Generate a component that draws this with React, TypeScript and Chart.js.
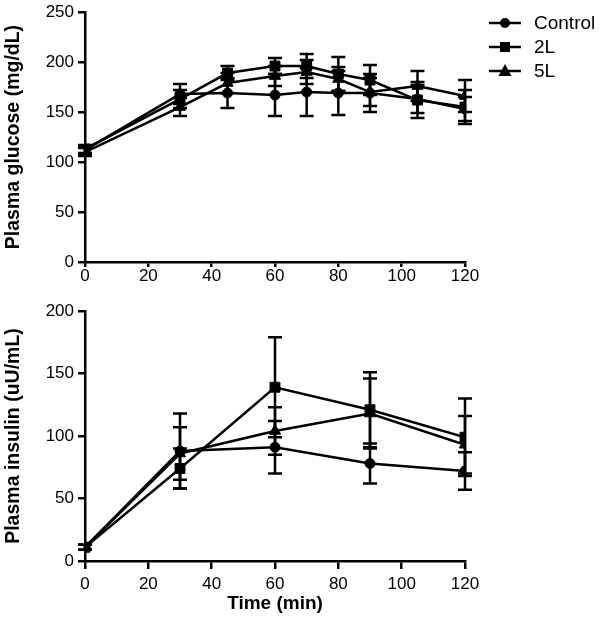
import React, { useEffect, useRef } from "react";
import { Chart, registerables } from "chart.js";

Chart.register(...registerables);

// ---- Data ----
const seriesNames = ["Control", "2L", "5L"];
const markerStyles = ["circle", "rect", "triangle"];

const glucoseTimes = [0, 30, 45, 60, 70, 80, 90, 105, 120];
const glucoseControl = [112, 168, 169, 167, 170, 169, 169, 163, 153];
const glucoseControlErr = [4, 10, 15, 21, 24, 22, 19, 14, 12];
const glucose2L = [113, 163, 189, 196, 196, 188, 182, 162, 155];
const glucose2LErr = [4, 9, 7, 8, 12, 17, 15, 18, 17];
const glucose5L = [110, 155, 179, 186, 190, 183, 170, 176, 166];
const glucose5LErr = [4, 9, 10, 10, 12, 12, 14, 15, 16];

const insulinTimes = [0, 30, 60, 90, 120];
const insulinControl = [11, 88, 91, 78, 72];
const insulinControlErr = [2, 30, 21, 16, 15];
const insulin2L = [11, 74, 139, 121, 99];
const insulin2LErr = [2, 16, 40, 30, 31];
const insulin5L = [11, 86, 104, 118, 93];
const insulin5LErr = [2, 21, 19, 28, 23];

const xTicks = [0, 20, 40, 60, 80, 100, 120];

const FONT = "'Liberation Sans', Arial, Helvetica, sans-serif";

const errorBarPlugin = {
  id: "errorBars",
  beforeDatasetsDraw(chart: any) {
    const ctx = chart.ctx;
    const yScale = chart.scales.y;
    chart.data.datasets.forEach((ds: any, di: number) => {
      const meta = chart.getDatasetMeta(di);
      if (!ds.errors) return;
      ctx.save();
      ctx.strokeStyle = "#000";
      ctx.lineWidth = 2.5;
      meta.data.forEach((pt: any, i: number) => {
        const v = ds.data[i].y;
        const e = ds.errors[i];
        const yTop = yScale.getPixelForValue(v + e);
        const yBot = yScale.getPixelForValue(v - e);
        const x = pt.x;
        ctx.beginPath();
        ctx.moveTo(x, yTop);
        ctx.lineTo(x, yBot);
        ctx.moveTo(x - 7, yTop);
        ctx.lineTo(x + 7, yTop);
        ctx.moveTo(x - 7, yBot);
        ctx.lineTo(x + 7, yBot);
        ctx.stroke();
      });
      ctx.restore();
    });
  },
};

const legendPlugin = {
  id: "customLegend",
  afterDraw(chart: any) {
    if (!chart.options.plugins.customLegend?.show) return;
    const ctx = chart.ctx;
    ctx.save();
    const ys = [23, 47, 71];
    seriesNames.forEach((name, i) => {
      const y = ys[i];
      ctx.strokeStyle = "#000";
      ctx.fillStyle = "#000";
      ctx.lineWidth = 2.5;
      ctx.beginPath();
      ctx.moveTo(489, y);
      ctx.lineTo(521, y);
      ctx.stroke();
      const cx = 505;
      ctx.beginPath();
      if (markerStyles[i] === "circle") {
        ctx.arc(cx, y, 5, 0, Math.PI * 2);
      } else if (markerStyles[i] === "rect") {
        ctx.rect(cx - 5, y - 5, 10, 10);
      } else {
        ctx.moveTo(cx, y - 7);
        ctx.lineTo(cx + 6.5, y + 5);
        ctx.lineTo(cx - 6.5, y + 5);
        ctx.closePath();
      }
      ctx.fill();
      ctx.font = `19px ${FONT}`;
      ctx.textBaseline = "middle";
      ctx.textAlign = "left";
      ctx.fillText(name, 534, y + 1);
    });
    ctx.restore();
  },
};

function makeDatasets(times: number[], vals: number[][], errs: number[][]) {
  return vals.map((v, si) => ({
    label: seriesNames[si],
    data: times.map((t, i) => ({ x: t, y: v[i] })),
    errors: errs[si],
    borderColor: "#000",
    backgroundColor: "#000",
    borderWidth: 2.5,
    pointStyle: markerStyles[si],
    pointRadius: si === 0 ? 5 : si === 1 ? 7 : 6.5,
    pointBorderWidth: 1,
    pointBorderColor: "#000",
    pointBackgroundColor: "#000",
    tension: 0,
  }));
}

function buildOptions(
  yMax: number,
  yTitle: string,
  showX: boolean,
  leftW: number,
  xH: number,
  padding: any,
  showLegend: boolean,
  xTickLen: number,
  xTickPad: number
) {
  return {
    responsive: false,
    animation: false,
    layout: { padding },
    plugins: {
      legend: { display: false },
      tooltip: { enabled: false },
      customLegend: { show: showLegend },
    },
    scales: {
      x: {
        type: "linear",
        min: 0,
        max: 120,
        afterBuildTicks: (s: any) => {
          s.ticks = xTicks.map((v) => ({ value: v }));
        },
        afterFit: (s: any) => {
          s.height = xH;
        },
        ticks: {
          color: "#000",
          font: { family: FONT, size: 17, lineHeight: 1.0 },
          padding: xTickPad,
          autoSkip: false,
          maxRotation: 0,
        },
        grid: { drawOnChartArea: false, drawTicks: true, tickLength: xTickLen, color: "#000", lineWidth: 2.5 },
        border: { display: true, color: "#000", width: 2.5 },
        title: {
          display: showX,
          text: "Time (min)",
          color: "#000",
          font: { family: FONT, size: 19, weight: "bold" },
          padding: { top: 0, bottom: 4 },
        },
      },
      y: {
        type: "linear",
        min: 0,
        max: yMax,
        afterFit: (s: any) => {
          s.width = leftW;
        },
        ticks: {
          stepSize: 50,
          color: "#000",
          font: { family: FONT, size: 17, lineHeight: 0.95 },
          padding: 4,
        },
        grid: { drawOnChartArea: false, drawTicks: true, tickLength: 7, color: "#000", lineWidth: 2.5 },
        border: { display: true, color: "#000", width: 2.5 },
        title: {
          display: true,
          text: yTitle,
          color: "#000",
          font: { family: FONT, size: 19.5, weight: "bold" },
          padding: { top: 2, bottom: 2 },
        },
      },
    },
  };
}

function ChartCanvas(props: { width: number; height: number; config: () => any }) {
  const ref = useRef<HTMLCanvasElement | null>(null);
  useEffect(() => {
    if (!ref.current) return;
    const chart = new Chart(ref.current, props.config());
    return () => chart.destroy();
  }, []);
  return (
    <canvas
      ref={ref}
      width={props.width}
      height={props.height}
      style={{ display: "block", width: props.width, height: props.height }}
    />
  );
}

export default function App() {
  const topConfig = () => ({
    type: "line",
    data: {
      datasets: makeDatasets(
        glucoseTimes,
        [glucoseControl, glucose2L, glucose5L],
        [glucoseControlErr, glucose2LErr, glucose5LErr]
      ),
    },
    options: buildOptions(250, "Plasma glucose (mg/dL)", false, 85, 28, { top: 0, right: 135, left: 0, bottom: 0 }, true, 5, 1),
    plugins: [errorBarPlugin, legendPlugin],
  });
  const bottomConfig = () => ({
    type: "line",
    data: {
      datasets: makeDatasets(
        insulinTimes,
        [insulinControl, insulin2L, insulin5L],
        [insulinControlErr, insulin2LErr, insulin5LErr]
      ),
    },
    options: buildOptions(200, "Plasma insulin (uU/mL)", true, 85, 58, { top: 21, right: 135, left: 0, bottom: 11 }, false, 8, 7),
    plugins: [errorBarPlugin],
  });
  return (
    <div style={{ position: "fixed", left: 0, top: 0, width: 600, height: 630, background: "#fff" }}>
      <ChartCanvas width={600} height={290} config={topConfig} />
      <ChartCanvas width={600} height={340} config={bottomConfig} />
    </div>
  );
}
